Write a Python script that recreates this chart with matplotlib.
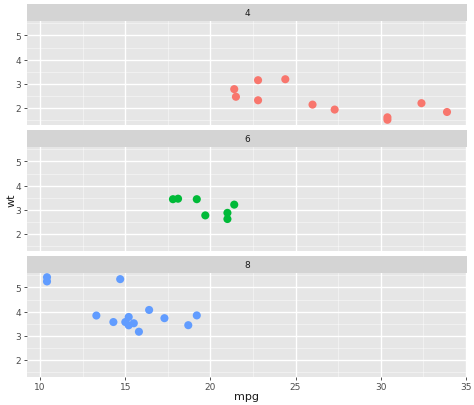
import numpy as np
import matplotlib.pyplot as plt
from matplotlib.ticker import MultipleLocator

# mtcars: mpg, wt por cilindros
mpg_4 = [22.8, 24.4, 22.8, 32.4, 30.4, 33.9, 21.5, 27.3, 26.0, 30.4, 21.4]
wt_4 = [2.320, 3.190, 3.150, 2.200, 1.615, 1.835, 2.465, 1.935, 2.140, 1.513, 2.780]
mpg_6 = [21.0, 21.0, 21.4, 18.1, 19.2, 17.8, 19.7]
wt_6 = [2.620, 2.875, 3.215, 3.460, 3.440, 3.440, 2.770]
mpg_8 = [18.7, 14.3, 16.4, 17.3, 15.2, 10.4, 10.4, 14.7, 15.5, 15.2, 13.3, 19.2, 15.8, 15.0]
wt_8 = [3.440, 3.570, 4.070, 3.730, 3.780, 5.250, 5.424, 5.345, 3.520, 3.435, 3.840, 3.845, 3.170, 3.570]

paineis = [('4', mpg_4, wt_4, '#F8766D'),
           ('6', mpg_6, wt_6, '#00BA38'),
           ('8', mpg_8, wt_8, '#619CFF')]

W, H = 474, 406
fig = plt.figure(figsize=(W / 100, H / 100), dpi=100)

todos_x = mpg_4 + mpg_6 + mpg_8
todos_y = wt_4 + wt_6 + wt_8
rx = max(todos_x) - min(todos_x)
ry = max(todos_y) - min(todos_y)
xlim = (min(todos_x) - 0.05 * rx, max(todos_x) + 0.05 * rx)
ylim = (min(todos_y) - 0.05 * ry, max(todos_y) + 0.05 * ry)

left, right = 27, 467
top = 5
strip_h, panel_h, gap = 16.5, 104, 5.5

for i, (nome, x, y, cor) in enumerate(paineis):
    y0 = top + i * (strip_h + panel_h + gap)
    # faixa do título
    sax = fig.add_axes([left / W, 1 - (y0 + strip_h) / H, (right - left) / W, strip_h / H])
    sax.set_facecolor('#D4D4D4')
    sax.set_xticks([])
    sax.set_yticks([])
    for s in sax.spines.values():
        s.set_visible(False)
    sax.text(0.5, 0.5, nome, ha='center', va='center', fontsize=6.5, color='#1A1A1A', transform=sax.transAxes)

    ax = fig.add_axes([left / W, 1 - (y0 + strip_h + panel_h) / H, (right - left) / W, panel_h / H])
    ax.set_facecolor('#E6E6E6')
    ax.set_axisbelow(True)
    ax.xaxis.set_major_locator(MultipleLocator(5))
    ax.xaxis.set_minor_locator(MultipleLocator(2.5))
    ax.yaxis.set_major_locator(MultipleLocator(1))
    ax.yaxis.set_minor_locator(MultipleLocator(0.5))
    ax.grid(which='major', color='white', linewidth=1.0)
    ax.grid(which='minor', color='white', linewidth=0.5, alpha=0.6)
    ax.tick_params(which='minor', length=0)
    ax.tick_params(which='major', length=2.5, width=0.6, color='#333333', labelsize=6.5, labelcolor='#4D4D4D', pad=1.5)
    for s in ax.spines.values():
        s.set_visible(False)
    ax.scatter(x, y, s=34, color=cor, edgecolors='none', zorder=3)
    ax.set_xlim(xlim)
    ax.set_ylim(ylim)
    if i < 2:
        ax.tick_params(axis='x', which='both', length=0, labelbottom=False)

fig.text(12 / W, 1 - 200 / H, 'wt', rotation=90, ha='center', va='center', fontsize=8, color='#1A1A1A')
fig.text((left + right) / 2 / W, 1 - 397 / H, 'mpg', ha='center', va='center', fontsize=8, color='#1A1A1A')

fig.savefig('out.png', dpi=100)
